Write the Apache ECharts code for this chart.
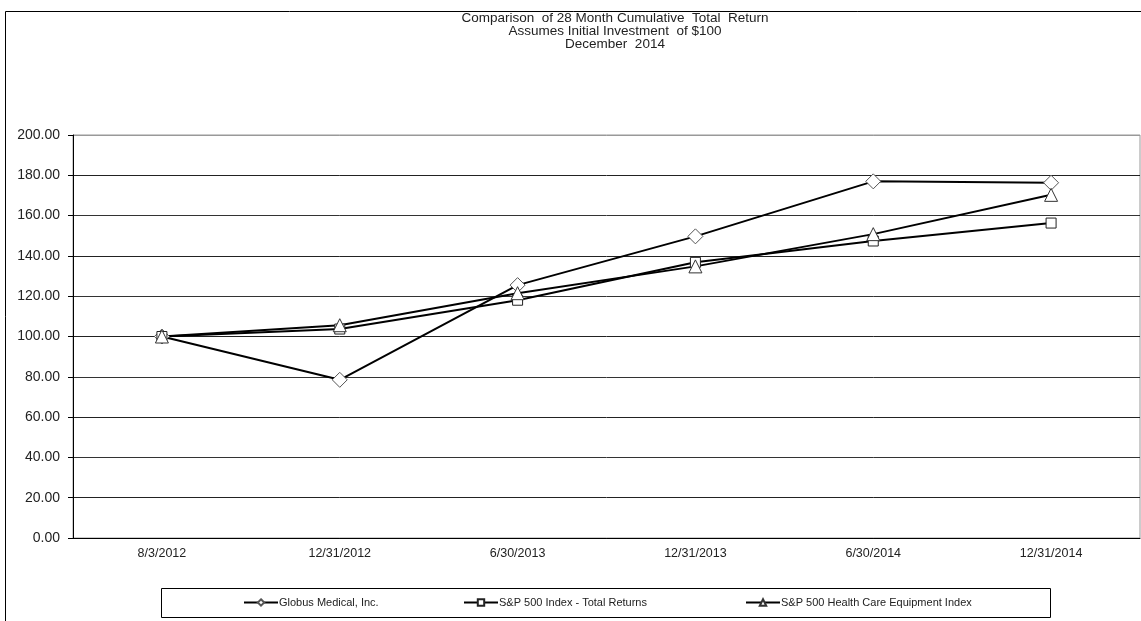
<!DOCTYPE html>
<html>
<head>
<meta charset="utf-8">
<script src="https://cdn.jsdelivr.net/npm/echarts@6/dist/echarts.min.js"></script>
<style>
html,body{margin:0;padding:0;background:#fff;}
#c{width:1141px;height:621px;}
</style>
</head>
<body>
<div id="c"></div>
<script>
const categories = ['8/3/2012', '12/31/2012', '6/30/2013', '12/31/2013', '6/30/2014', '12/31/2014'];
const globus = [100.00, 78.5, 125.5, 149.7, 177.0, 176.3];
const sp500 = [100.00, 103.7, 118.0, 136.8, 147.4, 156.3];
const healthCare = [100.00, 105.6, 121.5, 134.8, 150.8, 170.3];
const seriesNames = ['Globus Medical, Inc.', 'S&P 500 Index - Total Returns', 'S&P 500 Health Care Equipment Index'];
const yTicks = { min: 0, max: 200, interval: 20 };
const titleLines = ['Comparison  of 28 Month Cumulative  Total  Return', 'Assumes Initial Investment  of $100', 'December  2014'];

const font = '"Liberation Sans", Arial, sans-serif';
const chart = echarts.init(document.getElementById('c'));

function mkSeries(name, data, symbol, size, stroke) {
  return {
    name: name,
    type: 'line',
    data: data,
    symbol: symbol,
    symbolSize: size,
    showAllSymbol: true,
    lineStyle: { color: '#000', width: 2 },
    itemStyle: { color: '#fff', borderColor: stroke, borderWidth: 1 },
    emphasis: { disabled: true },
    animation: false
  };
}

function mkLegend(name, left) {
  return {
    data: [name],
    left: left,
    top: 597,
    itemWidth: 34,
    itemHeight: 8,
    itemGap: 0,
    padding: 0,
    textStyle: { fontSize: 11, fontFamily: font, color: '#222', padding: [0, 0, 0, -4] },
    selectedMode: false
  };
}

const gridColors = ['#000', '#222', '#333', '#222', '#333', '#222', '#333', '#222', '#333', '#222', '#999'];

chart.setOption({
  backgroundColor: '#fff',
  animation: false,
  title: {
    text: titleLines.join('\n'),
    left: 610,
    top: 7,
    textAlign: 'center',
    textStyle: { fontSize: 13.5, fontWeight: 'normal', fontFamily: font, color: '#222', lineHeight: 13 }
  },
  legend: [
    mkLegend(seriesNames[0], 243),
    mkLegend(seriesNames[1], 463),
    mkLegend(seriesNames[2], 745)
  ],
  grid: { left: 73, right: 1, top: 135, bottom: 83, show: true, borderColor: '#999', borderWidth: 1 },
  xAxis: {
    type: 'category',
    data: categories,
    boundaryGap: true,
    axisLine: { lineStyle: { color: '#000', width: 1 } },
    axisTick: { inside: true, alignWithLabel: true, length: 3, lineStyle: { color: '#555' } },
    axisLabel: { fontSize: 12.5, fontFamily: font, color: '#222', margin: 9 },
    splitLine: { show: false }
  },
  yAxis: {
    type: 'value',
    min: yTicks.min,
    max: yTicks.max,
    interval: yTicks.interval,
    axisLine: { show: true, lineStyle: { color: '#000', width: 1 } },
    axisTick: { show: true, length: 5, lineStyle: { color: '#000' } },
    axisLabel: { fontSize: 14, fontFamily: font, color: '#222', margin: 13, formatter: v => v.toFixed(2) },
    splitLine: { show: true, lineStyle: { color: gridColors, width: 1 } }
  },
  series: [
    mkSeries(seriesNames[0], globus, 'diamond', 15, '#555'),
    mkSeries(seriesNames[1], sp500, 'rect', 10, '#222'),
    mkSeries(seriesNames[2], healthCare, 'triangle', 13, '#333')
  ],
  graphic: [
    { type: 'rect', silent: true, z: -1, shape: { x: 5.5, y: 11.5, width: 1300, height: 800 }, style: { fill: null, stroke: '#000', lineWidth: 1 } },
    { type: 'rect', silent: true, z: -1, shape: { x: 161.5, y: 588.5, width: 889, height: 29 }, style: { fill: null, stroke: '#000', lineWidth: 1 } }
  ]
});
</script>
</body>
</html>
